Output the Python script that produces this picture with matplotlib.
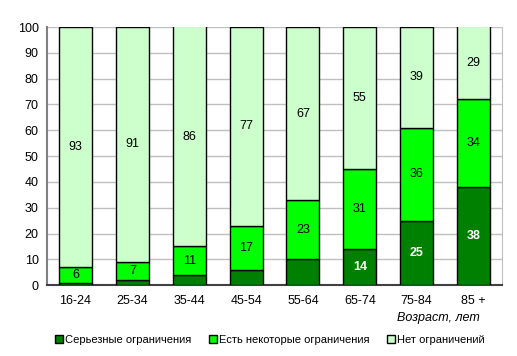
import numpy as np
import matplotlib
matplotlib.use('Agg')
from matplotlib import pyplot as plt

plt.rcParams['font.family'] = ['Liberation Sans', 'DejaVu Sans']

groups = ['16-24', '25-34', '35-44', '45-54', '55-64', '65-74', '75-84', '85 +']
serious = [1, 2, 4, 6, 10, 14, 25, 38]
some = [6, 7, 11, 17, 23, 31, 36, 34]
none_ = [93, 91, 86, 77, 67, 55, 39, 29]
names = ['Серьезные ограничения', 'Есть некоторые ограничения', 'Нет ограничений']
colors = ['#008000', '#00FF00', '#CCFFCC']

fig = plt.figure(figsize=(5.17, 3.56), dpi=100)
ax = fig.add_axes([0.091, 0.199, 0.880, 0.725])

x = np.arange(len(groups))
w = 0.58
s = np.array(serious)
m = np.array(some)
n = np.array(none_)
b1 = ax.bar(x, s, w, color=colors[0], edgecolor='black', linewidth=1, label=names[0], zorder=3)
b2 = ax.bar(x, m, w, bottom=s, color=colors[1], edgecolor='black', linewidth=1, label=names[1], zorder=3)
b3 = ax.bar(x, n, w, bottom=s + m, color=colors[2], edgecolor='black', linewidth=1, label=names[2], zorder=3)

fs = 9
for i in range(len(groups)):
    if serious[i] >= 14:
        ax.text(x[i], s[i] / 2, str(serious[i]), ha='center', va='center',
                color='white', fontsize=fs, fontweight='bold', zorder=4)
    ax.text(x[i], s[i] + m[i] / 2, str(some[i]), ha='center', va='center',
            color='black', fontsize=fs, zorder=4)
    top = min(s[i] + m[i] + n[i], 100)
    ax.text(x[i], (s[i] + m[i] + top) / 2, str(none_[i]), ha='center', va='center',
            color='black', fontsize=fs, zorder=4)

ax.set_xlim(-0.5, len(groups) - 0.5)
ax.set_ylim(0, 100)
ax.set_yticks(range(0, 101, 10))
ax.set_xticks(x)
ax.set_xticklabels(groups)
ax.yaxis.grid(True, color='#BFBFBF', linewidth=1, zorder=0)
ax.tick_params(axis='both', labelsize=fs, length=0, pad=6)
ax.tick_params(axis='x', pad=7)
ax.spines['top'].set_visible(False)
ax.spines['right'].set_color('#BFBFBF')
ax.spines['left'].set_color('#808080')
ax.spines['bottom'].set_color('#404040')
ax.spines['left'].set_linewidth(1.5)
ax.spines['bottom'].set_linewidth(1.5)

fig.text(0.848, 0.107, 'Возраст, лет', fontsize=fs, style='italic', ha='center', va='center')

fig.legend(handles=[b1, b2, b3], labels=names, loc='center', bbox_to_anchor=(0.522, 0.045),
           ncol=3, frameon=False, fontsize=8, handlelength=0.7, handleheight=0.7,
           handletextpad=0.2, columnspacing=1.6)

fig.savefig('out.png', dpi=100)
